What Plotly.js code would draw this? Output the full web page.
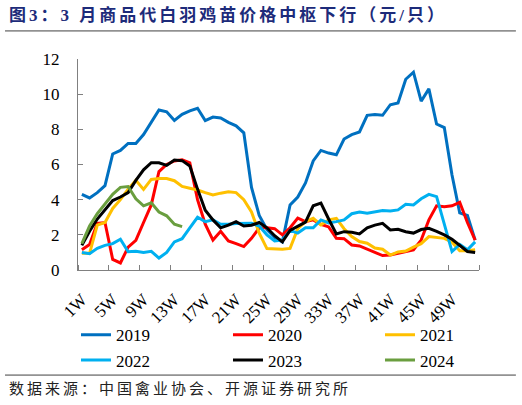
<!DOCTYPE html>
<html>
<head>
<meta charset="utf-8">
<script src="https://cdn.plot.ly/plotly-3.0.1.min.js"></script>
<style>
  html, body { margin: 0; padding: 0; background: #fff; }
  #chart { width: 522px; height: 405px; }
  /* the source chart spaces its Chinese captions out a bit */
  .annotation-text { letter-spacing: 3px; }
</style>
</head>
<body>
<div id="chart"></div>
<script>
// Weekly price of parent-stock white-feather chicks, yuan per bird
const WEEKS = [1, 2, 3, 4, 5, 6, 7, 8, 9, 10, 11, 12, 13, 14, 15, 16, 17, 18, 19, 20,
  21, 22, 23, 24, 25, 26, 27, 28, 29, 30, 31, 32, 33, 34, 35, 36, 37, 38, 39, 40,
  41, 42, 43, 44, 45, 46, 47, 48, 49, 50, 51, 52];

const Y2019 = [4.3, 4.1, 4.4, 4.8, 6.6, 6.8, 7.2, 7.2, 7.7, 8.4, 9.1, 9.0, 8.5, 8.85, 9.05, 9.2, 8.5, 8.7, 8.65, 8.4,
  8.2, 7.8, 4.7, 3.1, 2.3, 1.85, 1.6, 3.7, 4.15, 4.95, 6.2, 6.8, 6.65, 6.55, 7.45, 7.7, 7.85, 8.8, 8.85, 8.8,
  9.4, 9.5, 10.85, 11.25, 9.6, 10.3, 8.3, 8.1, 5.4, 3.25, 3.1, 1.7];
const Y2020 = [1.15, 1.45, 2.65, 2.7, 0.6, 0.4, 1.3, 1.68, 2.7, 3.7, 5.6, 6.0, 6.2, 6.27, 6.1, 4.0, 2.6, 1.7, 2.2, 1.65,
  1.5, 1.33, 1.8, 2.4, 2.4, 2.35, 2.0, 2.4, 2.95, 2.75, 2.85, 2.6, 2.45, 1.8, 1.78, 1.42, 1.37, 1.2, 1.0, 0.82,
  0.85, 0.95, 1.07, 1.15, 1.7, 2.85, 3.65, 3.6, 3.65, 3.85, 2.7, 1.7];
const Y2021 = [0.95, 0.95, 2.55, 2.7, 3.5, 4.0, 4.6, 5.1, 4.58, 5.15, 5.2, 5.2, 5.08, 4.75, 4.65, 4.55, 4.4, 4.27, 4.37, 4.45,
  4.4, 4.0, 3.3, 2.1, 1.22, 1.18, 1.18, 1.23, 2.35, 2.75, 2.94, 2.56, 2.85, 2.94, 2.35, 1.9, 1.62, 1.52, 1.25, 1.18,
  0.85, 1.03, 1.08, 1.3, 1.5, 1.9, 1.85, 1.8, 1.58, 1.1, 1.1, 1.15];
const Y2022 = [1.0, 0.93, 1.23, 1.4, 1.5, 1.75, 1.04, 1.07, 1.0, 1.06, 0.68, 1.0, 1.6, 1.78, 2.4, 3.0, 2.75, 2.85, 2.6, 2.6,
  2.65, 2.66, 2.66, 2.5, 2.0, 1.65, 1.7, 2.25, 2.1, 2.4, 2.4, 2.85, 2.68, 2.75, 2.85, 3.2, 3.3, 3.23, 3.32, 3.38,
  3.36, 3.42, 3.74, 3.7, 4.05, 4.3, 4.17, 2.65, 1.05, 1.45, 1.15, 1.6];
const Y2023 = [1.4, 2.2, 2.9, 3.45, 3.95, 4.15, 4.4, 5.1, 5.7, 6.1, 6.1, 5.95, 6.25, 6.22, 5.92, 4.6, 3.4, 2.85, 2.4, 2.55,
  2.75, 2.5, 2.55, 2.7, 2.4, 1.95, 1.6, 2.25, 2.5, 2.72, 3.65, 3.8, 2.9, 2.05, 2.18, 2.15, 2.05, 2.4, 2.55, 2.65,
  2.28, 2.32, 2.18, 2.1, 2.3, 2.37, 2.2, 2.0, 1.75, 1.42, 1.05, 1.0];
const Y2024 = [1.5, 2.5, 3.2, 3.75, 4.3, 4.7, 4.75, 4.05, 3.65, 3.82, 3.3, 3.08, 2.6, 2.47];

const SERIES = [
  ["2019", Y2019, "#0070c0"],
  ["2020", Y2020, "#ff0000"],
  ["2021", Y2021, "#ffc000"],
  ["2022", Y2022, "#00b0f0"],
  ["2023", Y2023, "#000000"],
  ["2024", Y2024, "#6a9e3f"],
];

const SERIF = "Liberation Serif, Times New Roman, serif";
const CJK = "Liberation Serif, Noto Sans CJK SC, sans-serif";
const AXIS_GREY = "#808080";

const traces = SERIES.map(([name, ys, color]) => ({
  x: WEEKS.slice(0, ys.length),
  y: ys,
  name,
  type: "scatter",
  mode: "lines",
  line: { color, width: 3 },
}));

const layout = {
  width: 522,
  height: 405,
  paper_bgcolor: "#fff",
  plot_bgcolor: "#fff",
  margin: { l: 78, r: 43, t: 59, b: 135, autoexpand: false },
  font: { family: SERIF, size: 17, color: "#000" },
  showlegend: true,
  xaxis: {
    range: [0.5, 52.5],
    tickmode: "linear",
    tick0: 1,
    dtick: 4,
    ticksuffix: "W",
    tickangle: -45,
    ticks: "",
    ticklabelstandoff: 12,
    showgrid: false,
    zeroline: false,
    showline: true,
    linecolor: AXIS_GREY,
    linewidth: 1,
    automargin: false,
    tickfont: { family: SERIF, size: 17, color: "#000" },
    minor: { ticks: "inside", tick0: 0.5, dtick: 4, ticklen: 5, tickcolor: AXIS_GREY, tickwidth: 1, showgrid: false },
  },
  yaxis: {
    range: [0, 12],
    dtick: 2,
    ticks: "inside",
    ticklen: 5,
    tickcolor: AXIS_GREY,
    ticklabelstandoff: 14,
    showgrid: false,
    zeroline: false,
    showline: true,
    linecolor: AXIS_GREY,
    linewidth: 1,
    automargin: false,
    tickfont: { family: SERIF, size: 17, color: "#000" },
  },
  legend: {
    orientation: "h",
    x: -0.005,
    xanchor: "left",
    y: -0.224,
    yanchor: "top",
    entrywidth: 107,
    entrywidthmode: "pixels",
    font: { family: SERIF, size: 17, color: "#000" },
    tracegroupgap: 0,
    bgcolor: "rgba(0,0,0,0)",
  },
  shapes: [
    { type: "line", xref: "paper", yref: "paper", x0: -0.182, x1: 1.092, y0: 1.133, y1: 1.133,
      line: { color: "#404040", width: 1 } },
    { type: "line", xref: "paper", yref: "paper", x0: -0.182, x1: 1.092, y0: -0.498, y1: -0.498,
      line: { color: "#404040", width: 1 } },
  ],
  annotations: [
    { text: "<b>图3：3 月商品代白羽鸡苗价格中枢下行（元/只）</b>", xref: "paper", yref: "paper",
      x: -0.177, y: 1.208, xanchor: "left", yanchor: "middle", showarrow: false,
      font: { family: CJK, size: 17, color: "#1d2b7a" } },
    { text: "数据来源：中国禽业协会、开源证券研究所", xref: "paper", yref: "paper",
      x: -0.177, y: -0.559, xanchor: "left", yanchor: "middle", showarrow: false,
      font: { family: "Noto Sans CJK SC, sans-serif", size: 15, color: "#222" } },
  ],
};

Plotly.newPlot("chart", traces, layout, { displayModeBar: false, responsive: false });
</script>
</body>
</html>
